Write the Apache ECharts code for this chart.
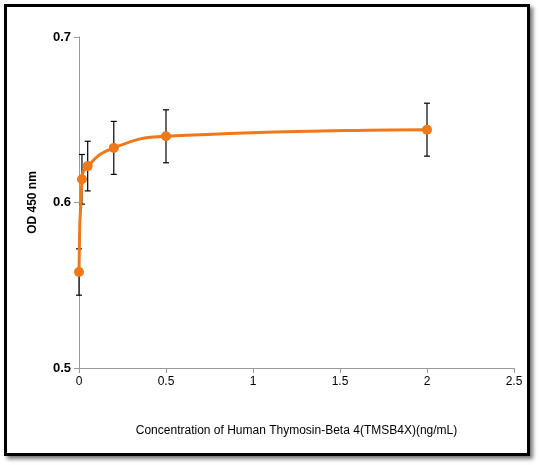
<!DOCTYPE html><html><head><meta charset="utf-8"><script src="https://cdn.jsdelivr.net/npm/echarts@6/dist/echarts.min.js"></script>
<style>body{margin:0}#b{position:absolute;left:4px;top:4px;width:526px;height:452px;border:3px solid #000;box-shadow:3px 3px 4px #777;box-sizing:border-box}#c{width:540px;height:465px;position:absolute;left:0;top:0}</style></head><body><div id="b"></div><div id="c"></div><script>
const xs=[0,0.017,0.05,0.2,0.5,2];
const ys=[0.558,0.614,0.622,0.633,0.640,0.644];
const errs=[0.014,0.015,0.015,0.016,0.016,0.016];
const c=echarts.init(document.getElementById('c'));
c.setOption({animation:false,grid:{left:79,right:26,top:37,bottom:97},
xAxis:{type:'value',min:0,max:2.5,interval:0.5,name:'Concentration of Human Thymosin-Beta 4(TMSB4X)(ng/mL)',nameLocation:'middle',nameGap:57,nameTextStyle:{color:'#000',fontSize:12,fontFamily:'Liberation Sans Narrow, Liberation Sans'},axisLine:{lineStyle:{color:'#999'}},axisTick:{show:true,lineStyle:{color:'#999'}},axisLabel:{color:'#000',fontSize:12},splitLine:{show:false}},
yAxis:{type:'value',min:0.5,max:0.7,interval:0.1,name:'OD 450 nm',nameLocation:'middle',nameGap:40,nameTextStyle:{color:'#000',fontWeight:'bold',fontSize:12},axisLine:{show:true,lineStyle:{color:'#999'}},axisTick:{show:true,lineStyle:{color:'#999'}},axisLabel:{color:'#000',fontWeight:'bold',fontSize:13,formatter:v=>v.toFixed(1)},splitLine:{show:false}},
series:[{type:'custom',renderItem:(p,api)=>{const x=api.value(0),y=api.value(1),e=api.value(2);const a=api.coord([x,y+e]),b=api.coord([x,y-e]);const s={stroke:'#000',lineWidth:1.2};return{type:'group',children:[{type:'line',shape:{x1:a[0],y1:a[1],x2:b[0],y2:b[1]},style:s},{type:'line',shape:{x1:a[0]-3,y1:a[1],x2:a[0]+3,y2:a[1]},style:s},{type:'line',shape:{x1:b[0]-3,y1:b[1],x2:b[0]+3,y2:b[1]},style:s}]}},data:xs.map((x,i)=>[x,ys[i],errs[i]]),z:1},
{type:'line',smooth:0.5,data:xs.map((x,i)=>[x,ys[i]]),symbol:'circle',symbolSize:10,itemStyle:{color:'#f07818'},lineStyle:{color:'#f07818',width:3},z:2}]});
</script></body></html>
